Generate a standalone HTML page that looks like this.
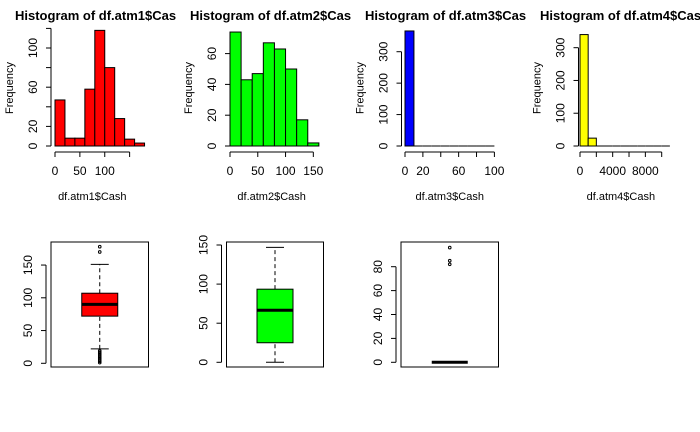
<!DOCTYPE html>
<html><head><meta charset="utf-8"><style>
html,body{margin:0;padding:0;background:#fff;}
svg{display:block;font-family:"Liberation Sans",Arial,sans-serif;}
</style></head><body>
<svg id="c" width="700" height="432" viewBox="0 0 700 432"></svg>
<script>
// ---- data ----
const h1Breaks=[0,20,40,60,80,100,120,140,160,180];
const h1Counts=[47,8,8,58,118,80,28,7,3];
const h2Breaks=[0,20,40,60,80,100,120,140,160];
const h2Counts=[74,43,47,67,63,50,17,2];
const h3Breaks=[0,10,20,30,40,50,60,70,80,90,100];
const h3Counts=[366,0,0,0,0,0,0,0,0,0];
const h4Breaks=[0,1000,2000,3000,4000,5000,6000,7000,8000,9000,10000,11000];
const h4Counts=[340,24,0,0,0,0,0,0,0,0,0];
const h1XTicks=[0,50,100,150], h1XLabels=["0","50","100",""];
const h1YTicks=[0,20,40,60,80,100,120], h1YLabels=["0","20","","60","","100",""];
const h2XTicks=[0,50,100,150], h2XLabels=["0","50","100","150"];
const h2YTicks=[0,20,40,60], h2YLabels=["0","20","40","60"];
const h3XTicks=[0,20,40,60,80,100], h3XLabels=["0","20","","60","","100"];
const h3YTicks=[0,100,200,300], h3YLabels=["0","100","200","300"];
const h4XTicks=[0,2000,4000,6000,8000,10000], h4XLabels=["0","","4000","","8000",""];
const h4YTicks=[0,100,200,300], h4YLabels=["0","100","200","300"];
const b1Stats=[22,72,90,107,151], b1Out=[178,170,1,3,5,7,9,11,13,15,17,19];
const b2Stats=[0,25,66.5,93.5,147], b2Out=[];
const b3Stats=[0,0,0,0,0], b3Out=[96,85,82];
const b1YTicks=[0,50,100,150], b2YTicks=[0,50,100,150], b3YTicks=[0,20,40,60,80];

const NS="http://www.w3.org/2000/svg", svg=document.getElementById('c');
function mk(tag,attrs,parent,text){const e=document.createElementNS(NS,tag);for(const k in attrs)e.setAttribute(k,attrs[k]);if(text!==undefined)e.textContent=text;(parent||svg).appendChild(e);return e;}
function lin(d0,d1,r0,r1){return v=>r0+(v-d0)*(r1-r0)/(d1-d0);}

function yAxis(g,sy,ticks,labels,ax,name){
  const a=mk('g',{},g);
  mk('line',{x1:ax,x2:ax,y1:sy(ticks[0]),y2:sy(ticks[ticks.length-1]),stroke:'#000'},a);
  ticks.forEach((t,i)=>{const y=sy(t);mk('line',{x1:ax-5,x2:ax,y1:y,y2:y,stroke:'#000'},a);
    const l=labels[i];if(l){mk('text',{x:0,y:0,'font-size':12,'text-anchor':'middle',transform:`translate(${ax-14},${y}) rotate(-90)`},a,l);}});
}
function xAxis(g,sx,ticks,labels,ay,name){
  const a=mk('g',{},g);
  mk('line',{x1:sx(ticks[0]),x2:sx(ticks[ticks.length-1]),y1:ay,y2:ay,stroke:'#000'},a);
  ticks.forEach((t,i)=>{const x=sx(t);mk('line',{x1:x,x2:x,y1:ay,y2:ay+5,stroke:'#000'},a);
    if(labels[i])mk('text',{x:x,y:ay+23,'font-size':12,'text-anchor':'middle'},a,labels[i]);});
}
function hist(o){
  const g=mk('g',{});
  const sx=lin(0,1,o.x0,o.x0+o.kx), sy=lin(0,1,146,146-o.ky);
  const t=mk('text',{x:o.tx,y:20,'font-size':13,'font-weight':'bold'},g,o.title);
  
  const f=mk('text',{x:0,y:0,'font-size':11,'text-anchor':'middle',transform:`translate(${o.ax-38},88) rotate(-90)`},g,'Frequency');
  
  const xt=mk('text',{x:(sx(o.xTicks[0])+sx(o.xTicks[o.xTicks.length-1]))/2,y:200,'font-size':11,'text-anchor':'middle'},g,o.xlab);
  
  o.counts.forEach((c,i)=>{const x1=sx(o.breaks[i]),x2=sx(o.breaks[i+1]),y=sy(c);
    let r;
    if(c>0){r=mk('rect',{x:x1,y:y,width:x2-x1,height:146-y,fill:o.color,stroke:'#000','stroke-width':1},g);}
    else{r=mk('line',{x1:x1,x2:x2,y1:146,y2:146,stroke:'#000','stroke-width':1},g);}
    });
  yAxis(g,sy,o.yTicks,o.yLabels,o.ax,'y-axis');
  xAxis(g,sx,o.xTicks,o.xLabels,152,'x-axis');
}
hist({name:'histogram-atm1',title:'Histogram of df.atm1$Cas',tx:15,x0:55,kx:0.4975,ky:0.98,ax:51,color:'#ff0000',breaks:h1Breaks,counts:h1Counts,xTicks:h1XTicks,xLabels:h1XLabels,yTicks:h1YTicks,yLabels:h1YLabels,xlab:'df.atm1$Cash'});
hist({name:'histogram-atm2',title:'Histogram of df.atm2$Cas',tx:190,x0:230,kx:0.5555,ky:1.54,ax:230,color:'#00ff00',breaks:h2Breaks,counts:h2Counts,xTicks:h2XTicks,xLabels:h2XLabels,yTicks:h2YTicks,yLabels:h2YLabels,xlab:'df.atm2$Cash'});
hist({name:'histogram-atm3',title:'Histogram of df.atm3$Cas',tx:365,x0:405,kx:0.894,ky:0.3143,ax:401.5,color:'#0000ff',breaks:h3Breaks,counts:h3Counts,xTicks:h3XTicks,xLabels:h3XLabels,yTicks:h3YTicks,yLabels:h3YLabels,xlab:'df.atm3$Cash'});
hist({name:'histogram-atm4',title:'Histogram of df.atm4$Cas',tx:540,x0:580,kx:0.00817,ky:0.3277,ax:578.5,color:'#ffff00',breaks:h4Breaks,counts:h4Counts,xTicks:h4XTicks,xLabels:h4XLabels,yTicks:h4YTicks,yLabels:h4YLabels,xlab:'df.atm4$Cash'});

function box(o){
  const g=mk('g',{});
  const sy=lin(0,1,o.y0,o.y0-o.ky), cx=(o.fx1+o.fx2)/2;
  const fr=mk('rect',{x:o.fx1,y:242,width:o.fx2-o.fx1,height:125,fill:'none',stroke:'#000'},g);
  
  const s=o.stats;
  const w=mk('g',{},g);
  mk('line',{x1:cx,x2:cx,y1:sy(s[0]),y2:sy(s[1]),stroke:'#000','stroke-dasharray':'4,3'},w);
  mk('line',{x1:cx,x2:cx,y1:sy(s[3]),y2:sy(s[4]),stroke:'#000','stroke-dasharray':'4,3'},w);
  mk('line',{x1:cx-9,x2:cx+9,y1:sy(s[0]),y2:sy(s[0]),stroke:'#000'},w);
  mk('line',{x1:cx-9,x2:cx+9,y1:sy(s[4]),y2:sy(s[4]),stroke:'#000'},w);
  const b=mk('rect',{x:cx-18,y:sy(s[3]),width:36,height:Math.max(0,sy(s[1])-sy(s[3])),fill:o.color,stroke:'#000'},g);
  
  const m=mk('line',{x1:cx-18,x2:cx+18,y1:sy(s[2]),y2:sy(s[2]),stroke:'#000','stroke-width':3},g);
  
  o.out.forEach(v=>{const c=mk('circle',{cx:cx,cy:sy(v),r:1.3,fill:'none',stroke:'#000','stroke-width':1},g);
    });
  yAxis(g,sy,o.ticks,o.ticks.map(String),o.fx1-5,'y-axis');
}
box({name:'boxplot-atm1',fx1:51,fx2:148.5,y0:363.3,ky:0.655,stats:b1Stats,out:b1Out,ticks:b1YTicks,color:'#ff0000'});
box({name:'boxplot-atm2',fx1:226.5,fx2:323.5,y0:362.3,ky:0.782,stats:b2Stats,out:b2Out,ticks:b2YTicks,color:'#00ff00'});
box({name:'boxplot-atm3',fx1:401,fx2:498.5,y0:362.3,ky:1.195,stats:b3Stats,out:b3Out,ticks:b3YTicks,color:'#0000ff'});
</script>
</body></html>
